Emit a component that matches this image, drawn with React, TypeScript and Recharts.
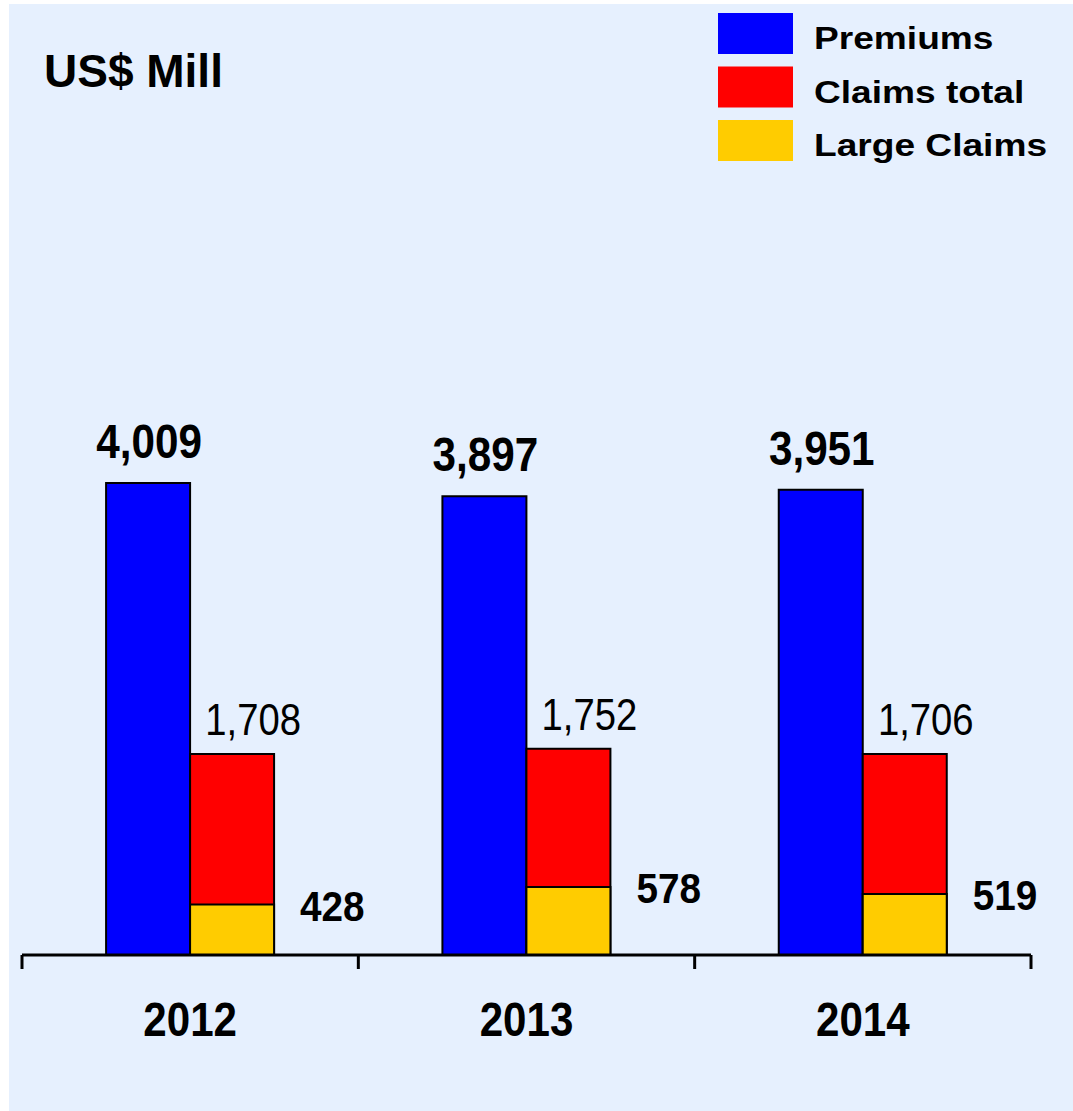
import React from 'react';
import { BarChart, Bar, XAxis, YAxis, Legend } from 'recharts';

const years = ['2012', '2013', '2014'];
const premiums = [4009, 3897, 3951];
const claimsTotal = [1708, 1752, 1706];
const largeClaims = [428, 578, 519];
const seriesNames = ['Premiums', 'Claims total', 'Large Claims'];
const seriesColors = ['#0000FF', '#FF0000', '#FFCC00'];
const unitLabel = 'US$ Mill';
const yDomain = [0, 8000];

const data = years.map((year, i) => ({
  year,
  premiums: premiums[i],
  claims: claimsTotal[i],
  large: largeClaims[i],
}));

const FONT = '"Liberation Sans", Arial, Helvetica, sans-serif';
const fmt = (v: number) => Number(v).toLocaleString('en-US');

function rectOf(props: any) {
  const vb = props.viewBox || {};
  return {
    x: Number(props.x ?? vb.x),
    y: Number(props.y ?? vb.y),
    width: Number(props.width ?? vb.width),
    height: Number(props.height ?? vb.height),
  };
}

function NarrowText({ x, y, sx, size, weight, anchor, children }: any) {
  return (
    <text
      transform={`translate(${x},${y}) scale(${sx},1)`}
      x={0}
      y={0}
      textAnchor={anchor}
      fontFamily={FONT}
      fontSize={size}
      fontWeight={weight}
      fill="#000"
    >
      {children}
    </text>
  );
}

const PremLabel = (props: any) => {
  const r = rectOf(props);
  return (
    <NarrowText x={r.x + r.width / 2 + 1} y={r.y - 25} sx={0.88} size={48} weight="bold" anchor="middle">
      {fmt(props.value)}
    </NarrowText>
  );
};

const ClaimsLabel = (props: any) => {
  const r = rectOf(props);
  return (
    <NarrowText x={r.x + r.width / 2 + 21} y={r.y - 19} sx={0.85} size={45} weight="normal" anchor="middle">
      {fmt(props.value)}
    </NarrowText>
  );
};

const LargeLabel = (props: any) => {
  const r = rectOf(props);
  return (
    <NarrowText x={r.x + r.width + 26} y={r.y + 16} sx={0.9} size={43} weight="bold" anchor="start">
      {fmt(props.value)}
    </NarrowText>
  );
};

const YearTick = (props: any) => {
  const { x, y, payload, index, visibleTicksCount, width } = props;
  const off = payload && payload.offset != null ? payload.offset : width / visibleTicksCount / 2;
  const isLast = index === visibleTicksCount - 1;
  return (
    <g>
      <line x1={x - off} x2={x - off} y1={y} y2={y + 14} stroke="#000" strokeWidth={3} />
      {isLast && <line x1={x + off} x2={x + off} y1={y} y2={y + 14} stroke="#000" strokeWidth={3} />}
      <NarrowText x={x} y={y + 81} sx={0.86} size={49} weight="bold" anchor="middle">
        {payload.value}
      </NarrowText>
    </g>
  );
};

const LegendContent = (props: any) => {
  const items = (props.payload || [])
    .filter((p: any) => p.type !== 'none' && seriesNames.indexOf(p.value) >= 0)
    .sort((a: any, b: any) => seriesNames.indexOf(a.value) - seriesNames.indexOf(b.value));
  return (
    <svg width={355} height={160} style={{ display: 'block', overflow: 'visible' }}>
      {items.map((p: any, i: number) => (
        <g key={p.value}>
          <rect x={0} y={i * 53.5} width={75} height={41} fill={p.color} />
          <text
            transform={`translate(96,${i * 53.5 + 36}) scale(1.16,1)`}
            fontFamily={FONT}
            fontSize={32}
            fontWeight="bold"
            fill="#000"
          >
            {p.value}
          </text>
        </g>
      ))}
    </svg>
  );
};

export default function App() {
  return (
    <div
      style={{
        position: 'absolute',
        left: 9,
        top: 4,
        width: 1064,
        height: 1107,
        background: '#E6F0FE',
        fontFamily: FONT,
      }}
    >
      <div
        style={{
          position: 'absolute',
          left: 35,
          top: 44,
          fontSize: 46,
          lineHeight: 1,
          fontWeight: 'bold',
          color: '#000',
          whiteSpace: 'nowrap',
        }}
      >
        {unitLabel}
      </div>
      <BarChart
        width={1064}
        height={1107}
        data={data}
        margin={{ top: 9, right: 42, left: 13, bottom: 0 }}
        barCategoryGap="25%"
        barGap={0}
      >
        <YAxis hide domain={yDomain} type="number" />
        <XAxis
          xAxisId="main"
          dataKey="year"
          height={156}
          tickSize={0}
          tickMargin={0}
          interval={0}
          tickLine={false}
          axisLine={{ stroke: '#000', strokeWidth: 3 }}
          tick={<YearTick />}
        />
        <XAxis xAxisId="front" dataKey="year" hide height={0} />
        <Legend
          layout="horizontal"
          verticalAlign="middle"
          align="center"
          wrapperStyle={{ top: 9, left: 709, width: 355, height: 160, right: 'auto', bottom: 'auto' }}
          content={<LegendContent />}
        />
        <Bar
          xAxisId="main"
          dataKey="premiums"
          name={seriesNames[0]}
          fill={seriesColors[0]}
          stroke="#000"
          strokeWidth={2}
          isAnimationActive={false}
          label={<PremLabel />}
        />
        <Bar
          xAxisId="main"
          dataKey="claims"
          name={seriesNames[1]}
          fill={seriesColors[1]}
          stroke="#000"
          strokeWidth={2}
          isAnimationActive={false}
          label={<ClaimsLabel />}
        />
        <Bar
          xAxisId="front"
          dataKey="premiums"
          fill="none"
          stroke="none"
          legendType="none"
          isAnimationActive={false}
        />
        <Bar
          xAxisId="front"
          dataKey="large"
          name={seriesNames[2]}
          fill={seriesColors[2]}
          stroke="#000"
          strokeWidth={2}
          isAnimationActive={false}
          label={<LargeLabel />}
        />
      </BarChart>
    </div>
  );
}
